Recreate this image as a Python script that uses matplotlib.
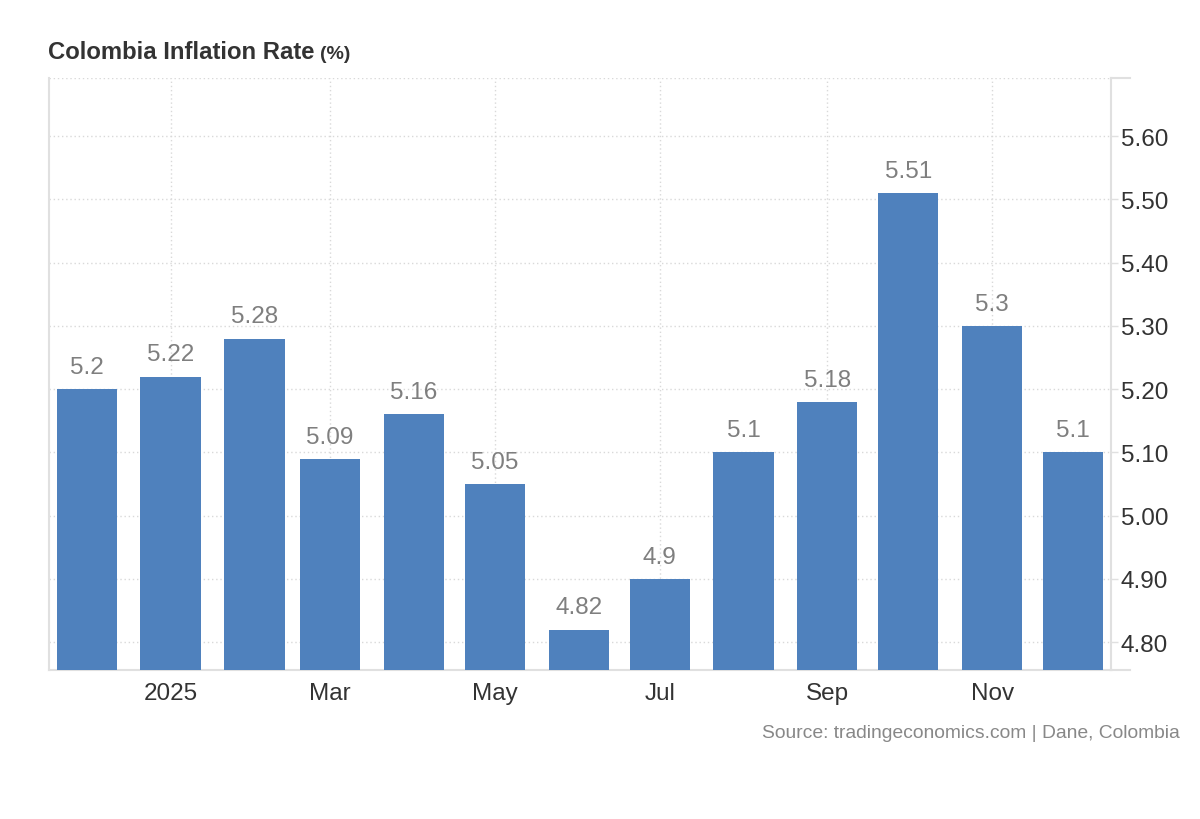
import datetime
import matplotlib.pyplot as plt
import matplotlib.dates as mdates

plt.rcParams["font.family"] = ["Liberation Sans", "DejaVu Sans"]

# monthly inflation, Dec 2024 .. Dec 2025 (plotted at month start)
months = ["2024-12", "2025-01", "2025-02", "2025-03", "2025-04", "2025-05", "2025-06",
          "2025-07", "2025-08", "2025-09", "2025-10", "2025-11", "2025-12"]
values = [5.2, 5.22, 5.28, 5.09, 5.16, 5.05, 4.82, 4.9, 5.1, 5.18, 5.51, 5.3, 5.1]
labels = ["5.2", "5.22", "5.28", "5.09", "5.16", "5.05", "4.82",
          "4.9", "5.1", "5.18", "5.51", "5.3", "5.1"]
xtick_months = ["2025-01", "2025-03", "2025-05", "2025-07", "2025-09", "2025-11"]
xtick_labels = ["2025", "Mar", "May", "Jul", "Sep", "Nov"]
ytick_vals = [4.8, 4.9, 5.0, 5.1, 5.2, 5.3, 5.4, 5.5, 5.6]

bar_color = "#4f81bd"
grid_color = "#d9d9d9"
spine_color = "#e0e0e0"


def to_date(s):
    y, m = map(int, s.split("-"))
    return datetime.date(y, m, 1)


dates = [to_date(m) for m in months]
tick_dates = [to_date(m) for m in xtick_months]

fig = plt.figure(figsize=(12, 8.2), dpi=100)
ax = fig.add_axes([49 / 1200, 1 - 671 / 820, (1111 - 49) / 1200, (671 - 79) / 820])

ax.bar(dates, values, width=22.3, color=bar_color, zorder=3)

for d, v, lab in zip(dates, values, labels):
    ax.annotate(lab, (mdates.date2num(d), v), xytext=(0, 8), textcoords="offset points",
                ha="center", va="bottom", fontsize=17.5, color="#7f7f7f", zorder=4)

pad = datetime.timedelta(days=14.5)
ax.set_xlim(dates[0] - pad, dates[-1] + pad)
ax.set_ylim(4.756, 5.692)

ax.yaxis.tick_right()
ax.set_yticks(ytick_vals)
ax.set_yticklabels([f"{v:.2f}" for v in ytick_vals])
ax.set_xticks(tick_dates)
ax.set_xticklabels(xtick_labels)
ax.tick_params(axis="y", length=5, width=1, color=spine_color, labelsize=17.5,
               labelcolor="#333333", pad=2)
ax.tick_params(axis="x", length=0, labelsize=17.5, labelcolor="#333333", pad=9)

# dotted grid, top line included
ax.grid(True, axis="both", linestyle=(0, (1, 2)), color=grid_color, linewidth=1, zorder=0)
ax.axhline(5.692, color=grid_color, linestyle=(0, (1, 2)), linewidth=1, zorder=0)

ax.spines["top"].set_visible(False)
for side in ["left", "right", "bottom"]:
    ax.spines[side].set_color(spine_color)
    ax.spines[side].set_linewidth(1.5)

# short extensions past right spine
fig.add_artist(plt.Line2D([1111 / 1200, 1130 / 1200], [1 - 671 / 820, 1 - 671 / 820],
                          color=spine_color, linewidth=1.5))
fig.add_artist(plt.Line2D([1111 / 1200, 1130 / 1200], [1 - 79 / 820, 1 - 79 / 820],
                          color=spine_color, linewidth=1.5))

fig.text(48 / 1200, 1 - 59 / 820, "Colombia Inflation Rate", fontsize=17.2,
         fontweight="bold", color="#333333", ha="left", va="baseline")
fig.text(320 / 1200, 1 - 59 / 820, "(%)", fontsize=14,
         fontweight="bold", color="#333333", ha="left", va="baseline")

fig.text(1180 / 1200, 1 - 738 / 820, "Source: tradingeconomics.com | Dane, Colombia",
         fontsize=13.9, color="#888888", ha="right", va="baseline")

fig.savefig("out.png", dpi=100)
